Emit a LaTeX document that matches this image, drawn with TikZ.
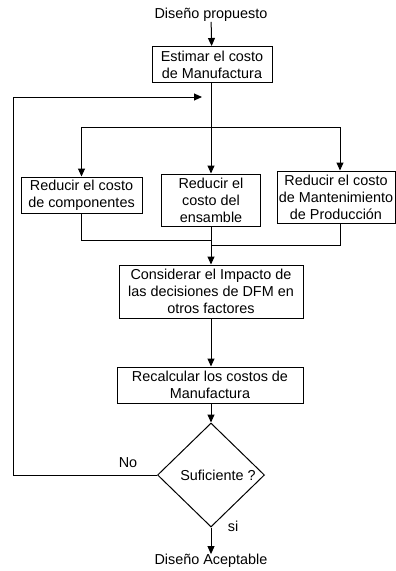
\documentclass[tikz,border=0pt]{standalone}
\usepackage{fontspec}
\setmainfont{Liberation Sans}
\usetikzlibrary{shapes.geometric,arrows.meta}
\begin{document}
\begin{tikzpicture}[x=1pt,y=-1pt,
  every node/.style={font=\fontsize{14.4}{17}\selectfont, inner sep=0pt},
  box/.style={draw, line width=1pt, align=center, minimum width=#1},
  dec/.style={draw, line width=1pt, diamond, minimum width=107pt, minimum height=104pt},
  lbl/.style={align=center},
  con/.style={line width=1pt},
  arr/.style={line width=1pt, -{Triangle[length=8pt,width=7pt]}}]
\useasboundingbox (0,0) rectangle (396,571);
\node[lbl] (start) at (211,15) {Diseño propuesto};
\node[box=120pt, minimum height=36pt] (est) at (212,64.5) {Estimar el costo\\de Manufactura};
\node[box=121pt, minimum height=36pt] (rc) at (81.5,195) {Reducir el costo\\de componentes};
\node[box=99pt, minimum height=52pt] (re) at (211,200) {Reducir el\\costo del\\ensamble};
\node[box=118pt, minimum height=52pt] (rm) at (336,197) {Reducir el costo\\de Mantenimiento\\de Producción};
\node[box=184pt, minimum height=53pt] (cons) at (211,291.5) {Considerar el Impacto de\\las decisiones de DFM en\\otros factores};
\node[box=186pt, minimum height=36pt] (rec) at (210,385) {Recalcular los costos de\\Manufactura};
\node[dec] (suf) at (211,475) {\hspace*{14pt}Suficiente ?};
\node[lbl] (fin) at (211,561) {Diseño Aceptable};
\node[lbl] (no) at (128,463) {No};
\node[lbl] (si) at (233,526) {si};
\coordinate (sp) at (211,127);
\coordinate (mgl) at (211,240);
\coordinate (mgr) at (211,245);
\coordinate (lc) at (13,97);
\coordinate (lt) at (202,97);
\draw[arr] (start) -- (est);
\draw[con] (est.south -| sp) -- (sp);
\draw[arr] (sp) -| (rc.north);
\draw[arr] (sp) -- (re.north -| sp);
\draw[arr] (sp) -| ([xshift=4pt]rm.north);
\draw[con] (rc.south) |- (mgl);
\draw[con] ([xshift=4pt]rm.south) |- (mgr);
\draw[arr] (re.south -| sp) -- (cons.north -| sp);
\draw[arr] (cons.south -| sp) -- (rec.north -| sp);
\draw[arr] (rec.south -| sp) -- (suf.north);
\draw[arr] (suf.south) -- (fin.north);
\draw[arr] (suf.west) -| (lc) -- (lt);
\end{tikzpicture}
\end{document}
